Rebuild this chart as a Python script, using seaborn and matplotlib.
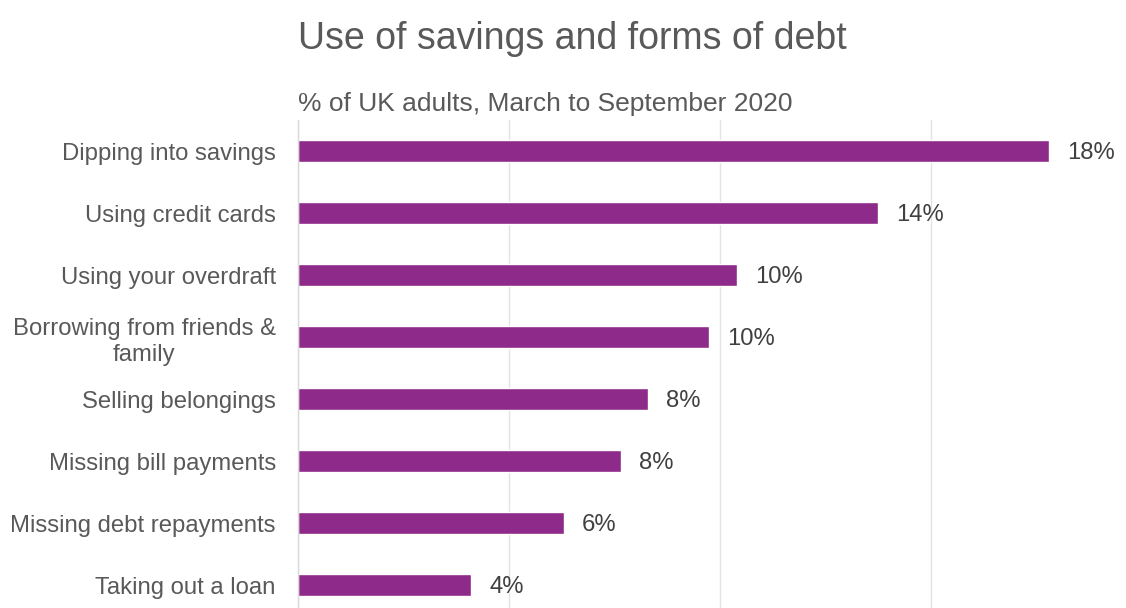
import matplotlib
matplotlib.use("Agg")
import matplotlib.pyplot as plt
import seaborn as sns
import pandas as pd

categories = [
    "Dipping into savings",
    "Using credit cards",
    "Using your overdraft",
    "Borrowing from friends &\nfamily",
    "Selling belongings",
    "Missing bill payments",
    "Missing debt repayments",
    "Taking out a loan",
]
shares = [17.8, 13.75, 10.4, 9.75, 8.3, 7.65, 6.3, 4.1]

title = "Use of savings and forms of debt"
subtitle = "% of UK adults, March to September 2020"

sns.set_theme(style="white")
plt.rcParams["font.family"] = ["Liberation Sans", "DejaVu Sans"]

text_color = "#595959"
bar_color = "#8D2A8A"

df = pd.DataFrame({"category": categories, "share": shares})

W, H = 1126, 608
fig = plt.figure(figsize=(W / 100, H / 100), dpi=100)
ax = fig.add_axes([298 / W, 0, (1126 - 298) / W, (608 - 120) / H])

sns.barplot(data=df, y="category", x="share", orient="h", color=bar_color,
            saturation=1, width=0.35, ax=ax)

ax.set_xlim(0, 19.62)
ax.set_ylim(7.37, -0.5)
ax.set_xticks([0, 5, 10, 15])
ax.set_xticklabels([])
ax.tick_params(axis="x", length=0)
ax.tick_params(axis="y", length=0, pad=16, labelsize=17.2, labelcolor=text_color)
for lbl in ax.get_yticklabels():
    lbl.set_multialignment("center")
    lbl.set_linespacing(1.25)
ax.grid(axis="x", color="#E3E3E3", linewidth=1.0)
ax.set_axisbelow(True)
ax.set_xlabel("")
ax.set_ylabel("")
for side in ["top", "right", "bottom"]:
    ax.spines[side].set_visible(False)
ax.spines["left"].set_color("#D9D9D9")
ax.spines["left"].set_linewidth(1.0)

for i, v in enumerate(shares):
    ax.annotate(f"{v:.0f}%", xy=(v, i), xytext=(13, -1.5), textcoords="offset points",
                va="center", ha="left", fontsize=17.2, color="#404040")

fig.text(298 / W, 1 - 39 / H, title, fontsize=27, color=text_color, va="center", ha="left")
fig.text(298 / W, 1 - 104 / H, subtitle, fontsize=19, color=text_color, va="center", ha="left")

fig.savefig("out.png", dpi=100)
